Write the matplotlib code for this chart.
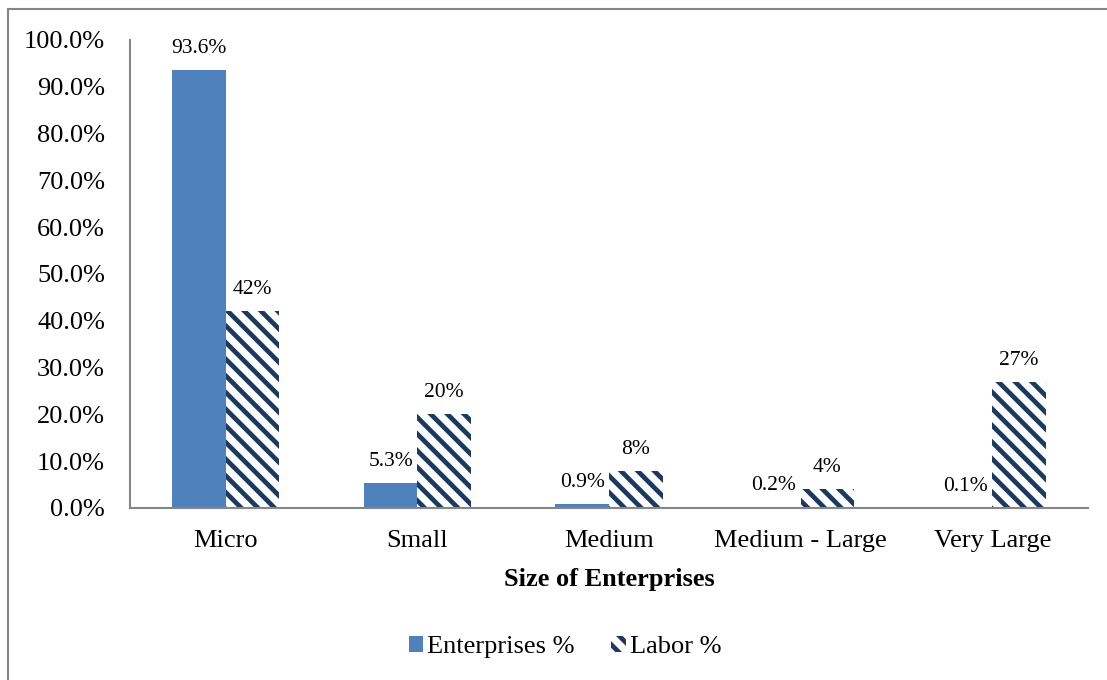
import matplotlib
matplotlib.use("Agg")
import matplotlib.pyplot as plt
import numpy as np
from matplotlib.lines import Line2D
from matplotlib.patches import Patch

categories = ["Micro", "Small", "Medium", "Medium - Large", "Very Large"]
enterprises_pct = [93.6, 5.3, 0.9, 0.2, 0.1]
labor_pct = [42, 20, 8, 4, 27]
enterprise_labels = ["93.6%", "5.3%", "0.9%", "0.2%", "0.1%"]
labor_labels = ["42%", "20%", "8%", "4%", "27%"]
y_ticks = [0, 10, 20, 30, 40, 50, 60, 70, 80, 90, 100]

BLUE = "#4F81BD"
NAVY = "#1B3A62"
GRAY = "#868686"

plt.rcParams["font.family"] = ["Liberation Serif", "DejaVu Serif"]
plt.rcParams["hatch.linewidth"] = 3.4

DPI = 100
fig = plt.figure(figsize=(1107 / DPI, 680 / DPI), dpi=DPI)
ax = fig.add_axes([130 / 1107, 1 - 508 / 680, (1088 - 130) / 1107, (508 - 40) / 680])

x = np.arange(len(categories))
w = 0.28
b1 = ax.bar(x - w / 2, enterprises_pct, w, color=BLUE, linewidth=0)
b2 = ax.bar(x + w / 2, labor_pct, w, facecolor="white", edgecolor=NAVY,
            hatch="\\\\", linewidth=0)

for rect, lab in zip(b1, enterprise_labels):
    ax.annotate(lab, (rect.get_x() + rect.get_width() / 2, rect.get_height()),
                xytext=(0, 15.5), textcoords="offset points",
                ha="center", va="center", fontsize=15.5)
for rect, lab in zip(b2, labor_labels):
    ax.annotate(lab, (rect.get_x() + rect.get_width() / 2, rect.get_height()),
                xytext=(0, 15.5), textcoords="offset points",
                ha="center", va="center", fontsize=15.5)

ax.set_xlim(-0.5, len(categories) - 0.5)
ax.set_ylim(0, 100)
ax.set_yticks(y_ticks)
ax.set_yticklabels([f"{v:.1f}%" for v in y_ticks])
ax.set_xticks(x)
ax.set_xticklabels(categories)
ax.tick_params(axis="both", length=0, labelsize=19)
ax.tick_params(axis="y", pad=18)
ax.tick_params(axis="x", pad=15.5)

for s in ["top", "right"]:
    ax.spines[s].set_visible(False)
for s in ["left", "bottom"]:
    ax.spines[s].set_color(GRAY)
    ax.spines[s].set_linewidth(1.5)

ax.set_xlabel("Size of Enterprises", fontsize=19, fontweight="bold", labelpad=12)

handles = [Patch(facecolor=BLUE, linewidth=0),
           Patch(facecolor="white", edgecolor=NAVY, hatch="\\\\", linewidth=0)]
fig.legend(handles, ["Enterprises %", "Labor %"], loc="center",
           bbox_to_anchor=(565 / 1107, 1 - 647 / 680), ncol=2, frameon=False,
           fontsize=19, handlelength=0.55, handleheight=0.55, handletextpad=0.15,
           columnspacing=1.4)

# outer chart border (top and left edges)
fig.add_artist(Line2D([8 / 1107, 8 / 1107], [0, 1 - 9 / 680], color=GRAY, lw=1.5,
                      transform=fig.transFigure))
fig.add_artist(Line2D([8 / 1107, 1], [1 - 9 / 680, 1 - 9 / 680], color=GRAY, lw=1.5,
                      transform=fig.transFigure))

fig.savefig("out.png", dpi=DPI)
